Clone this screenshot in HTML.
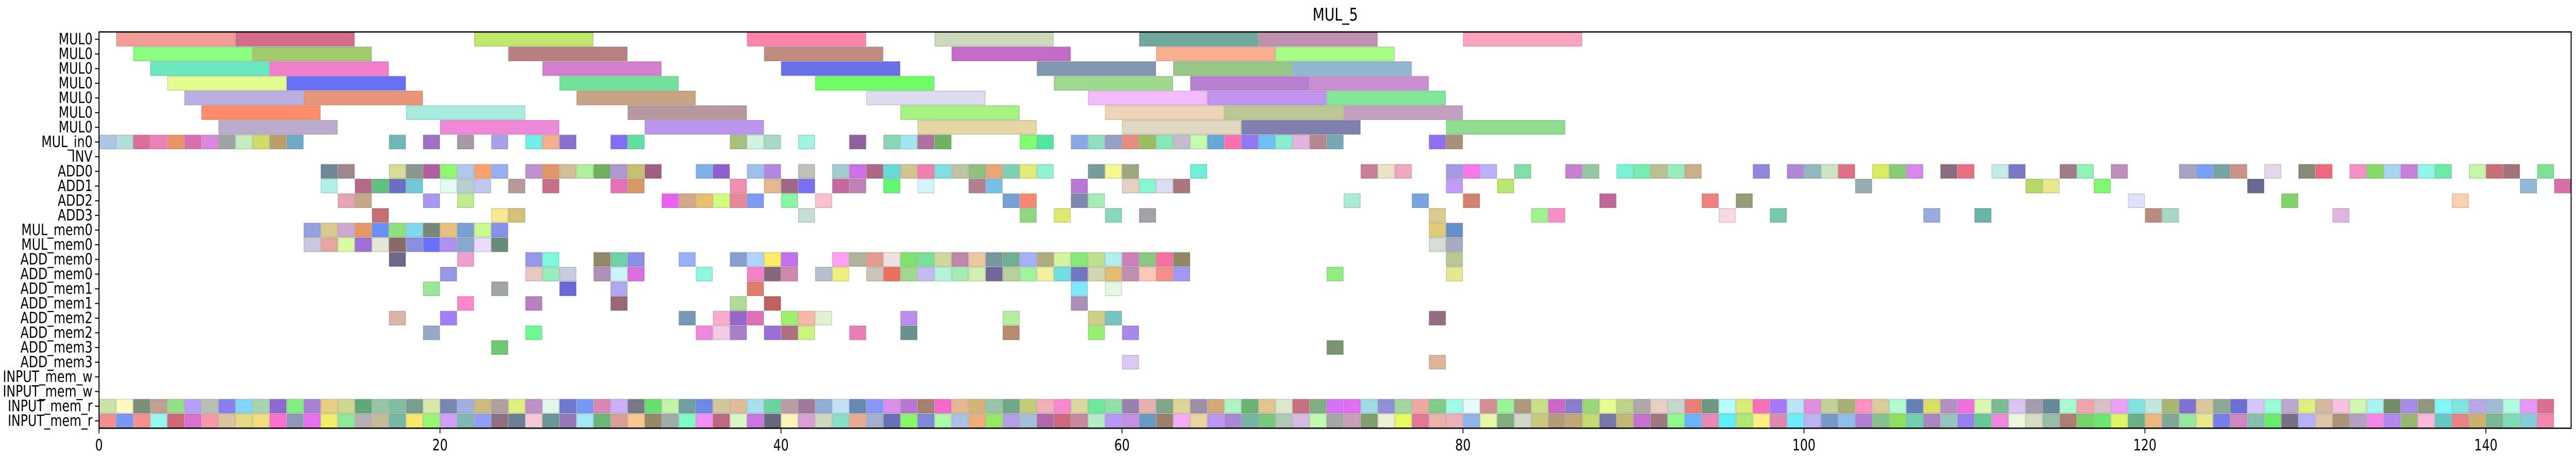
<!DOCTYPE html>
<html><head><meta charset="utf-8"><title>MUL_5</title>
<style>html,body{margin:0;padding:0;background:#fff;overflow:hidden;width:100%;height:100%}svg{display:block;width:100vw;height:100vh}text{font-family:"DejaVu Sans","Liberation Sans",sans-serif;fill:#000}</style>
</head><body>
<svg id="chart" viewBox="0 0 6347 899" preserveAspectRatio="none" xmlns="http://www.w3.org/2000/svg">
<text x="3290" y="40" font-size="34" text-anchor="middle">MUL_5</text>
<g id="bars"></g>
<g id="axes"></g>
</svg>
<script>
const rowLabels = ["MUL0","MUL0","MUL0","MUL0","MUL0","MUL0","MUL0","MUL_in0","INV","ADD0","ADD1","ADD2","ADD3","MUL_mem0","MUL_mem0","ADD_mem0","ADD_mem0","ADD_mem1","ADD_mem1","ADD_mem2","ADD_mem2","ADD_mem3","ADD_mem3","INPUT_mem_w","INPUT_mem_w","INPUT_mem_r","INPUT_mem_r"];
const xTicks = [0,20,40,60,80,100,120,140];
const xMax = 145;
const mulDuration = 7;
const cellDuration = 1;
const rowStarts = [
[1,8,22,38,49,61,68,80],
[2,9,24,39,50,62,69],
[3,10,26,40,55,63,70],
[4,11,27,42,56,64,71],
[5,12,28,45,58,65,72],
[6,18,31,47,59,66,73],
[7,20,32,48,60,67,79],
[0,1,2,3,4,5,6,7,8,9,10,11,17,19,21,23,25,26,27,30,31,37,38,39,41,44,46,47,48,49,54,55,57,58,59,60,61,62,63,64,65,66,67,68,69,70,71,72,78,79],
[],
[13,14,17,18,19,20,21,22,23,25,26,27,28,29,30,31,32,35,36,38,39,41,43,44,45,46,47,48,49,50,51,52,53,54,55,58,59,60,64,74,75,76,79,80,81,83,86,87,89,90,91,92,93,97,99,100,101,102,104,105,106,108,109,111,112,115,116,118,122,123,124,125,127,129,130,132,133,134,135,136,137,139,140,141,143],
[13,15,16,17,18,20,21,22,24,26,30,31,37,39,40,41,43,44,46,48,51,52,57,60,61,62,63,79,82,103,113,114,117,126,142,144],
[14,15,19,21,33,34,35,36,37,38,40,42,53,54,57,58,73,77,80,88,94,96,119,128,138],
[16,23,24,41,54,56,59,61,78,84,85,95,98,107,110,120,121,131],
[12,13,14,15,16,17,18,19,20,21,22,23,78,79],
[12,13,14,15,16,17,18,19,20,21,22,23,78,79],
[17,21,25,26,29,30,31,34,37,38,39,40,43,44,45,46,47,48,49,50,51,52,53,54,55,56,57,58,59,60,61,62,63,79],
[20,25,26,27,29,30,31,35,38,39,40,42,43,45,46,47,48,49,50,51,52,53,54,55,56,57,58,59,60,61,62,63,72,79],
[19,23,27,30,38,57,59],
[21,25,30,37,39,57],
[17,20,34,36,37,38,40,41,42,47,53,58,59,78],
[19,25,35,36,37,39,40,41,44,47,53,58,60],
[23,72],
[60,78],
[],
[],
[0,1,2,3,4,5,6,7,8,9,10,11,12,13,14,15,16,17,18,19,20,21,22,23,24,25,26,27,28,29,30,31,32,33,34,35,36,37,38,39,40,41,42,43,44,45,46,47,48,49,50,51,52,53,54,55,56,57,58,59,60,61,62,63,64,65,66,67,68,69,70,71,72,73,74,75,76,77,78,79,80,81,82,83,84,85,86,87,88,89,90,91,92,93,94,95,96,97,98,99,100,101,102,103,104,105,106,107,108,109,110,111,112,113,114,115,116,117,118,119,120,121,122,123,124,125,126,127,128,129,130,131,132,133,134,135,136,137,138,139,140,141,142,143],
[0,1,2,3,4,5,6,7,8,9,10,11,12,13,14,15,16,17,18,19,20,21,22,23,24,25,26,27,28,29,30,31,32,33,34,35,36,37,38,39,40,41,42,43,44,45,46,47,48,49,50,51,52,53,54,55,56,57,58,59,60,61,62,63,64,65,66,67,68,69,70,71,72,73,74,75,76,77,78,79,80,81,82,83,84,85,86,87,88,89,90,91,92,93,94,95,96,97,98,99,100,101,102,103,104,105,106,107,108,109,110,111,112,113,114,115,116,117,118,119,120,121,122,123,124,125,126,127,128,129,130,131,132,133,134,135,136,137,138,139,140,141,142,143]
];
const rowColors = [
["#f29d96","#d46e8c","#bde86c","#ff85aa","#ccd9bc","#70a8a0","#c090b0","#fca4c0"],
["#8cff82","#a0cc6e","#b88080","#c08c80","#c46cc8","#f8b090","#a8fc88"],
["#6ae8be","#f27ecc","#d47fd0","#6a70e8","#8098b0","#98c888","#90b8d0"],
["#e3fd91","#6a70f5","#74e29c","#70ff66","#a0d890","#b880d0","#c890d0"],
["#bbaee0","#e8957a","#c8a484","#e0dcf0","#f4bcfc","#c094f0","#80e898"],
["#ff8c6a","#a8ece0","#b898a0","#a6f282","#f0d4b8","#bcc894","#c4a0c0"],
["#bcaccc","#f088d8","#bc96ee","#e6d6a4","#e0d8c0","#8080b0","#90dc90"],
["#aec7e8","#b0e0dc","#d87098","#ec80b8","#e89468","#d870b0","#dc88dc","#9ea4a4","#c6ecc0","#d0dc68","#b8a068","#70a8c8","#70b8b8","#a070c8","#a898a8","#a8a0e8","#70f0e8","#f4b090","#8870d0","#8070f8","#60e0a0","#a8c080","#d0f4e0","#a8d8c8","#a0f4e0","#9060a0","#88d8b8","#a0e8f0","#b070a0","#70b060","#80ff70","#50e8a0","#88a8e8","#90e0c0","#98a0c8","#e88c80","#98c060","#88e8b8","#c4bccc","#c4fcb0","#68a8d8","#ff70b0","#9078f8","#70c0f8","#88f0d0","#e4b4e0","#b88890","#78a8b8","#9070f0","#a89078"],
[],
["#708898","#a08888","#d8dc98","#8a9890","#b060a0","#90f870","#b0c8f0","#ffa070","#98b0f0","#c090d0","#e09868","#d0c098","#b0f0a0","#70b060","#b098d0","#c8c070","#a06080","#80b0e8","#9060d0","#a0c0ec","#b088e0","#c0c0b8","#a0ccd0","#d070e8","#b06888","#68d8d8","#d0c490","#f080b0","#80e0e0","#bcc4a4","#90c080","#e8a878","#80d0b8","#e0ee78","#90f4d0","#789c9c","#f8f890","#a0a880","#70f0d8","#c88098","#e8e4c4","#f0a8c0","#a898e8","#f878e8","#bcb0fc","#80e0a8","#c880d0","#94c8a0","#78f4d4","#78eeb0","#bcc090","#98ecc0","#c8b088","#9088e0","#b088d8","#90b8c0","#cce4c0","#e07088","#dcec60","#88cc78","#d888ec","#8c6c80","#e87080","#c4ece8","#7c78c8","#a07c88","#90f4b8","#c090bc","#a8a4c0","#78a0f8","#78a4a4","#cc9488","#e4d8ec","#888a78","#f06880","#f490c8","#84dc68","#a8d4f0","#c880d8","#90f8e8","#68eca8","#c4f8a8","#c87074","#a07478","#80e098"],
["#b0f0e8","#b86888","#60c080","#6870c0","#70c8d8","#e0fcf4","#b8d0d0","#c0c8f0","#b89898","#c87088","#e870b8","#d89868","#f090b0","#e4b890","#a06888","#7870f0","#c868a0","#c080b8","#60f870","#d4f4fc","#b08090","#78c0e8","#b878d8","#e8d0c0","#88f8d0","#dcdcf4","#a87880","#c09cf8","#b8e870","#98acb4","#b8d868","#e8e890","#80f870","#686890","#90b8d8","#d870a8"],
["#e8a4b0","#c4a888","#a898f0","#c0ec90","#ec60f0","#d4a888","#e8c070","#d0ff80","#e88898","#8098f8","#88f8a0","#fcc0d0","#78a0d8","#f88870","#8088b0","#a8ecb8","#a8ecd8","#78a4e0","#d48070","#c06898","#f08080","#989c78","#e0e0fc","#80d468","#fcd0b0"],
["#c87070","#f8e890","#d4c078","#c8dcd8","#90d880","#e0e870","#88d8c0","#a0a4a8","#dccc90","#a0f490","#f890c8","#f8d8e4","#78c8b0","#98ace0","#68b4a8","#b88c80","#a8d8c4","#e4b4e0"],
["#94a0e0","#d8cc8c","#d0a8d0","#e89868","#6890f8","#90e080","#80d8f0","#788878","#e8c080","#78a0d0","#c8fc90","#8890e8","#e0cc78","#6890c8"],
["#ccc8e0","#e4a8a0","#d8fca0","#a070d8","#e4e8d4","#8a6a68","#8890e0","#6a70ff","#b090f0","#88a8d0","#ecdcfc","#6a8a7a","#d4e0d4","#a8acc0"],
["#706888","#f0a0d0","#9898e8","#80f8e0","#908868","#70d0a8","#8890e8","#98b0f8","#88a0d0","#b0d4fc","#fcec68","#c070f0","#fca0f4","#b0b498","#e49c8c","#f0e0e0","#80e070","#78e098","#d0d89c","#c088a8","#ecc8a0","#7898a0","#70b090","#a4b0f8","#b0ac80","#d4f4a0","#88e878","#c0e090","#b0f0e8","#d080b8","#8cc880","#f870a0","#908868","#bcc894"],
["#9898e8","#e8c8c0","#98ecc0","#c8cce0","#b090b8","#ccf4f8","#d870e0","#90f8e0","#f880c8","#886878","#d088b0","#b8c0d0","#f0f080","#ccc4b8","#ec7060","#a0d890","#c4bcf0","#b4f4dc","#a8ecb4","#d4eeb0","#706898","#b8d0a0","#a0f4a0","#f4f0a0","#70e0e0","#7078c0","#d0d8b0","#e4bc70","#c090b0","#fcc8b8","#f49088","#a098f4","#90ee80","#e4e890"],
["#98e898","#a0a8a0","#6a68d8","#b0a8f0","#e07c68","#80e8fc","#e4f8e4"],
["#ff88cc","#b880c0","#986878","#b0dc98","#c06060","#a890b8"],
["#dcb4a8","#a080f8","#7898b8","#fcaad0","#9868c8","#e070b8","#a0f070","#f8b8a8","#e4f0d4","#b890ec","#b4f0a0","#ccd088","#78c4c0","#946c84"],
["#98a8c8","#70f890","#f088e0","#f4cce8","#a880c8","#9870d8","#b07080","#ccf480","#e880b8","#6a9090","#b88c70","#98f070","#a888e8"],
["#70c870","#7c9470"],
["#dcc8f4","#e0b498"],
[],
[],
["#c8e4a8","#fff8c0","#7c9078","#c0a090","#94e088","#b8a0f8","#b8c0b4","#8880f0","#80d8f8","#a8d4b0","#9068d0","#80f080","#a880d8","#e8d080","#d0d890","#60a878","#98c4a8","#80c0a0","#78a090","#d8e8a8","#7888b0","#a0b0e0","#ccbc80","#b0a0a0","#e0f080","#c090c8","#e0f8e8","#7078d0","#7898f8","#d888b8","#ccb0f8","#787888","#68e070","#c4f4a8","#70a0a0","#7088e8","#d0c898","#e0bc9c","#a8e0f0","#68d4a0","#b89ca8","#a07898","#90b0d8","#c4e0f4","#6888b8","#8898f8","#d890ec","#b878d0","#a88070","#f868c8","#e4b890","#d4b478","#98c4a8","#70a888","#c4cc78","#f0b0b8","#f888d0","#dcd8a0","#70e8a0","#90e0a8","#9880b0","#e8b0b0","#80a888","#e0d498","#9c90a8","#d4a878","#b0f4c4","#68b470","#e4c490","#dce8cc","#c87080","#80b080","#d870f8","#e070f0","#a0dce4","#9090d8","#a0d8a0","#f0a8a0","#80cc88","#a0fce8","#e4fcfc","#d49090","#98f498","#b09880","#c8e088","#cc68c8","#8c7cd0","#9cd878","#e8fc90","#bcd488","#b0a8a8","#e8d0c4","#c4d8d0","#e88078","#709880","#b8fcfc","#dcec78","#f870b8","#a878f8","#b8e4fc","#e090e0","#c4d098","#a8b078","#ff90c0","#dccc9c","#b0fcd0","#6880b8","#d8e068","#b490c4","#f070e0","#dcf8b0","#7cbc94","#dcc4f4","#a49cb0","#688898","#a8fcd0","#f0a4b0","#d8c0c4","#e8a0f8","#80e4e4","#c0e8e0","#a8b870","#8070d0","#dcc89c","#90a898","#6c70d0","#d4c8f8","#98fcd8","#bca8cc","#e0f080","#d4b8a0","#f8c0e4","#d0f8b0","#a8f4f0","#708c68","#a88ce8","#909880","#80f8f8","#80e4e0","#b8a8e8","#a0bcd4","#b0fce0","#e898f8","#d87090"],
["#f09090","#7898f8","#f89090","#98f8f0","#d06878","#dc70d0","#f898a8","#dcc4a0","#e4dc80","#f4dc80","#ff70d0","#9098b8","#e870f0","#f0f068","#90e898","#b8b0b8","#c4bc98","#78b8a8","#f8e870","#98f870","#d0a0f8","#80b8b8","#90a0f8","#907080","#6a8098","#f8c8d8","#6a9898","#9878b8","#a4e8f8","#68b878","#d8a098","#f8c890","#988868","#a0aca8","#80fcc8","#f090f8","#c06880","#d8f8c8","#c878e0","#686880","#fcf4b8","#d8a0d4","#d0d8c0","#88e0c8","#e8ac90","#a4b0d0","#6870b8","#88f868","#8088d8","#a8fca8","#acc0e8","#ecb078","#98e868","#b4a0e4","#a4c0d8","#b068a8","#d06880","#c888a0","#b4ecc8","#b898f8","#c490e0","#6c98c4","#9c806c","#f4acf4","#ecd4a0","#bc98f4","#a888d4","#78b4a8","#78c880","#b0c8b8","#d4bce4","#c0fcb0","#a4a8a4","#c8a0bc","#80a070","#ecf0d8","#e8fc60","#e07898","#ecb4a8","#ecb0b8","#94b4ec","#e4f8a8","#80b080","#d0d8c8","#c8c880","#b49c78","#c0a878","#c4dc70","#7878a8","#c4b878","#c870d0","#a07880","#90f890","#6cb4f8","#e888b8","#60f0f8","#b0e878","#fcf080","#e088b0","#70ecfc","#bcb4f0","#7898c8","#90c0e8","#b080d4","#88c090","#90e060","#70d0b0","#a888c0","#98c4c0","#9880f0","#68c898","#f088e0","#ecf8dc","#d4dcc4","#98bca8","#ac8070","#78d468","#6ce870","#e0f468","#6cb088","#ecb880","#80a898","#98e8a0","#e8e890","#7880e8","#d088c4","#88c0b0","#6cec6c","#787088","#b8b0f8","#e0c4ac","#ac9478","#b4a0c4","#f488e8","#b488f0","#98b870","#fcb8d8","#68c8c4","#e88488","#ccb070","#7cb894","#80dcb8","#88ccd8","#f088b0"]
];

const NS = "http://www.w3.org/2000/svg";
const plotL = 244, plotR = 6335, plotT = 62, plotB = 831.5;
const rowH = (plotB - plotT) / rowLabels.length;
function xScale(v) { return plotL + (v / xMax) * (plotR - plotL); }
function yScale(i) { return plotT + i * rowH; }
function darken(hex) {
  const n = parseInt(hex.slice(1), 16);
  const r = Math.round(((n >> 16) & 255) * 0.78), g = Math.round(((n >> 8) & 255) * 0.78), b = Math.round((n & 255) * 0.78);
  return "rgb(" + r + "," + g + "," + b + ")";
}
const barsG = document.getElementById("bars");
const axesG = document.getElementById("axes");
rowStarts.forEach(function (starts, r) {
  const dur = r < 7 ? mulDuration : cellDuration;
  starts.forEach(function (s, k) {
    const col = rowColors[r][k] || "#cccccc";
    const rect = document.createElementNS(NS, "rect");
    
    
    const x0 = xScale(s), x1 = xScale(s + dur);
    rect.setAttribute("x", x0 + 1);
    rect.setAttribute("y", yScale(r) + 1);
    rect.setAttribute("width", Math.max(0, x1 - x0 - 2));
    rect.setAttribute("height", rowH - 2);
    rect.setAttribute("fill", col);
    rect.setAttribute("stroke", darken(col));
    rect.setAttribute("stroke-opacity", "0.55");
    rect.setAttribute("stroke-width", "2");
    barsG.appendChild(rect);
  });
});
rowLabels.forEach(function (lab, i) {
  const yc = yScale(i) + rowH / 2;
  const t = document.createElementNS(NS, "line");
  
  
  t.setAttribute("x1", plotL - 10); t.setAttribute("x2", plotL);
  t.setAttribute("y1", yc); t.setAttribute("y2", yc);
  t.setAttribute("stroke", "#000"); t.setAttribute("stroke-width", "2");
  axesG.appendChild(t);
  const tx = document.createElementNS(NS, "text");
  
  
  tx.setAttribute("x", plotL - 16);
  tx.setAttribute("y", yc + 10);
  tx.setAttribute("font-size", "30");
  tx.setAttribute("text-anchor", "end");
  tx.textContent = lab;
  axesG.appendChild(tx);
});
xTicks.forEach(function (v) {
  const x = xScale(v);
  const t = document.createElementNS(NS, "line");
  
  
  t.setAttribute("x1", x); t.setAttribute("x2", x);
  t.setAttribute("y1", plotB); t.setAttribute("y2", plotB + 10);
  t.setAttribute("stroke", "#000"); t.setAttribute("stroke-width", "2");
  axesG.appendChild(t);
  const tx = document.createElementNS(NS, "text");
  
  
  tx.setAttribute("x", x);
  tx.setAttribute("y", plotB + 43);
  tx.setAttribute("font-size", "30");
  tx.setAttribute("text-anchor", "middle");
  tx.textContent = String(v);
  axesG.appendChild(tx);
});
const frame = document.createElementNS(NS, "rect");


frame.setAttribute("x", plotL); frame.setAttribute("y", plotT);
frame.setAttribute("width", plotR - plotL); frame.setAttribute("height", plotB - plotT);
frame.setAttribute("fill", "none"); frame.setAttribute("stroke", "#000"); frame.setAttribute("stroke-width", "2.5");
axesG.appendChild(frame);
</script>
</body></html>
